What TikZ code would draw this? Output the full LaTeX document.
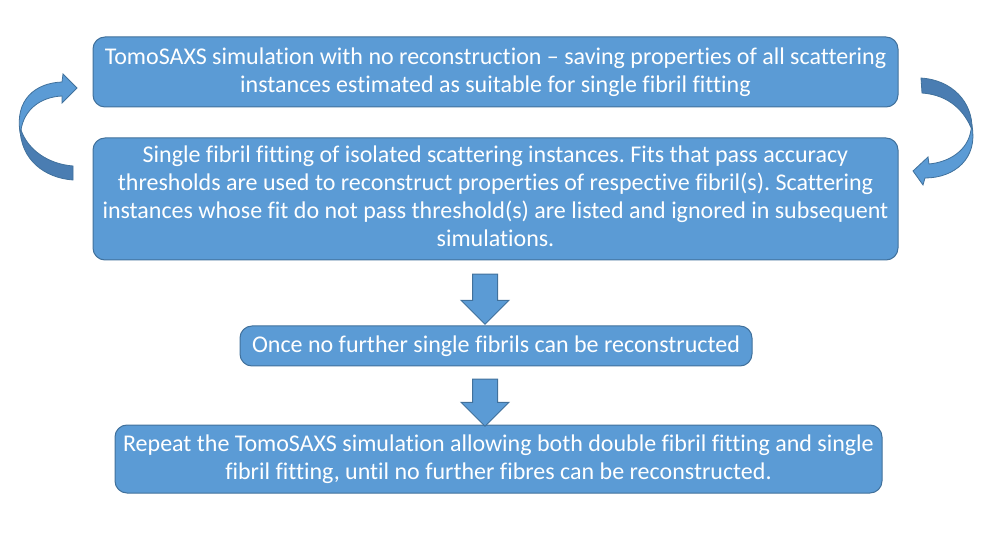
\documentclass[tikz,border=0pt]{standalone}
\usepackage{fontspec}
\setmainfont[Ligatures=CommonOff]{Carlito}
\usetikzlibrary{shapes.arrows}
\definecolor{boxfill}{HTML}{5B9BD5}
\definecolor{boxline}{HTML}{41719C}
\definecolor{bandfill}{HTML}{4A7DB2}
\tikzset{
  stepbox/.style={draw=boxline, fill=boxfill, line width=0.75pt, rounded corners=9pt,
    text=white, align=center, inner sep=0pt,
    font=\fontsize{18pt}{21pt}\selectfont\frenchspacing},
  downarrow/.style={draw=boxline, fill=boxfill, line width=0.75pt, shape=single arrow,
    rotate=-90, inner sep=9pt, single arrow head extend=8.6pt,
    single arrow head indent=0pt},
  band/.style={draw=boxline, line width=0.6pt}
}
\begin{document}
\begin{tikzpicture}[x=0.75pt,y=-0.75pt]
  \useasboundingbox (0,0) rectangle (993,538);
  % steps
  \node[stepbox, minimum width=603.75pt, minimum height=52.5pt] (sim) at (495.5,72)
    {TomoSAXS simulation with no reconstruction -- saving properties of all scattering\\
     instances estimated as suitable for single fibril fitting};
  \node[stepbox, minimum width=603.75pt, minimum height=91.5pt, text depth=4pt] (fit) at (495.5,199)
    {Single fibril fitting of isolated scattering instances. Fits that pass accuracy\\
     thresholds are used to reconstruct properties of respective fibril(s). Scattering\\
     instances whose fit do not pass threshold(s) are listed and ignored in subsequent\\
     simulations.};
  \node[stepbox, minimum width=384pt, minimum height=30pt] (once) at (496,346)
    {Once no further single fibrils can be reconstructed};
  \node[stepbox, minimum width=575.25pt, minimum height=51pt] (repeat) at (498.5,459)
    {Repeat the TomoSAXS simulation allowing both double fibril fitting and single\\
     fibril fitting, until no further fibres can be reconstructed.};
  % block arrows
  \node[downarrow, minimum height=37.5pt] (down1) at (485,293) {};
  \node[downarrow, minimum height=35.25pt] (down2) at (485,396.5) {};
  % left loop arrow
  \filldraw[band, fill=bandfill] (20,127) .. controls (20,160) and (45,178) .. (73,180)
    -- (73,166) .. controls (48,164) and (28,150) .. (21,130) -- cycle;
  \filldraw[band, fill=boxfill] (21,130) .. controls (24,110) and (40,97) .. (62,96)
    -- (62,103) -- (77,88) -- (63,74) -- (62,82)
    .. controls (35,83) and (15,100) .. (20,132) -- cycle;
  % right loop arrow
  \filldraw[band, fill=bandfill] (921,78) .. controls (952,80) and (973,102) .. (972,130)
    .. controls (965,112) and (950,95) .. (922,93) -- cycle;
  \filldraw[band, fill=boxfill] (971,130) .. controls (968,150) and (950,162) .. (929,164)
    -- (928,157) -- (913,171) -- (923,185) -- (925,178)
    .. controls (955,178) and (978,158) .. (972,126) -- cycle;
\end{tikzpicture}
\end{document}
